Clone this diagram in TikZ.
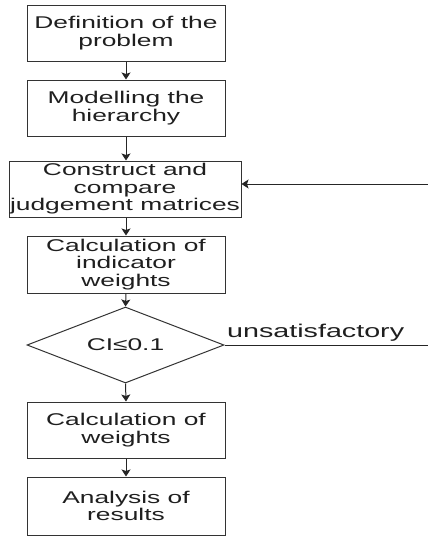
\documentclass[tikz,border=0pt]{standalone}
\usepackage{fontspec}
\setmainfont{Liberation Sans}[FakeStretch=1.55]
\usetikzlibrary{shapes.geometric,arrows.meta}
\begin{document}
\begin{tikzpicture}[x=1pt,y=1pt,
  every node/.style={font=\fontsize{17}{17.5}\selectfont, text=black!88},
  stepbox/.style={draw=black!80, line width=1pt, align=center, inner sep=0pt,
    minimum width=198pt, minimum height=56pt},
  decision/.style={diamond, draw=black!80, line width=1pt, inner sep=0pt, aspect=2.6,
    minimum width=197pt, minimum height=76pt},
  arr/.style={draw=black!85, line width=1pt, -{Stealth[length=7pt,width=9pt,inset=1.5pt]}},
  ln/.style={draw=black!85, line width=1pt}]
\useasboundingbox (0,0) rectangle (428,-536);
\node[stepbox] (b1) at (126,-33) {Definition of the\\problem};
\node[stepbox] (b2) at (126,-108) {Modelling the\\hierarchy};
\node[stepbox, minimum width=232pt] (b3) at (125,-189) {Construct and\\compare\\judgement matrices};
\node[stepbox, minimum height=57pt] (b4) at (126,-264.5) {Calculation of\\indicator\\weights};
\node[decision] (d) at (125.5,-345) {CI≤0.1};
\node[stepbox] (b5) at (126,-430) {Calculation of\\weights};
\node[stepbox, minimum height=58pt] (b6) at (126,-506) {Analysis of\\results};
\node[anchor=base west, inner sep=0pt, font=\fontsize{18.5}{19}\selectfont] (lab) at (227,-337) {unsatisfactory};
\coordinate (fb) at (428,-184);
\coordinate (out) at (428,-345);
\draw[arr] (b1.south -| b2.north) -- (b2.north);
\draw[arr] (b2.south) -- (b2.south |- b3.north);
\draw[arr] (b3.south -| b4.north) -- (b4.north);
\draw[arr] (b4.south) -- (d.north);
\draw[arr] (d.south) -- (b5.north);
\draw[arr] (b5.south) -- (b6.north);
\draw[arr] (fb) -- (fb -| b3.east);
\draw[ln] (d.east) -- (out);
\end{tikzpicture}
\end{document}
